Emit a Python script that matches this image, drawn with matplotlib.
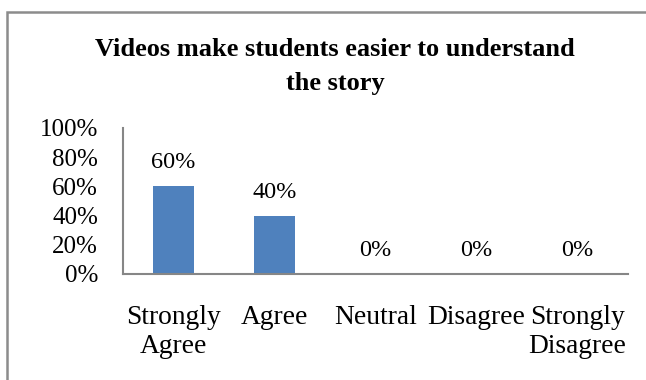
import matplotlib
matplotlib.use("Agg")
import matplotlib.pyplot as plt
from matplotlib.patches import Rectangle

categories = ["Strongly\nAgree", "Agree", "Neutral", "Disagree", "Strongly\nDisagree"]
values = [0.60, 0.40, 0.0, 0.0, 0.0]
value_labels = ["60%", "40%", "0%", "0%", "0%"]
yticks = [0.0, 0.2, 0.4, 0.6, 0.8, 1.0]
ytick_labels = ["0%", "20%", "40%", "60%", "80%", "100%"]
title = "Videos make students easier to understand\nthe story"

plt.rcParams['font.family'] = ['Liberation Serif', 'DejaVu Serif']

fig = plt.figure(figsize=(6.46, 3.80), dpi=100)
ax = fig.add_axes([123/646, 1-274/380, (628-123)/646, (274-128)/380])

x = list(range(len(categories)))
ax.bar(x, values, width=0.41, color="#4F81BD")
ax.set_xlim(-0.5, len(categories)-0.5)
ax.set_ylim(0, 1.0)
ax.set_yticks(yticks)
ax.set_yticklabels(ytick_labels, fontsize=18)
ax.set_xticks(x)
ax.set_xticklabels(categories, fontsize=19.8, linespacing=1.25)
ax.tick_params(axis='y', length=0, pad=18)
ax.tick_params(axis='x', length=0, pad=22)
for s in ['top', 'right']:
    ax.spines[s].set_visible(False)
for s in ['left', 'bottom']:
    ax.spines[s].set_color('#868686')
    ax.spines[s].set_linewidth(1.5)

for xi, v, lab in zip(x, values, value_labels):
    ax.annotate(lab, (xi, v), xytext=(0, 13), textcoords='offset points',
                ha='center', va='baseline', fontsize=17.5)

fig.text(335/646, 1-66.5/380, title, ha='center', va='center',
         fontsize=19, fontweight='bold', linespacing=1.59)

fig.patches.append(Rectangle((7/646, -0.2), 1.5, 1-12/380+0.2,
                             transform=fig.transFigure, fill=False,
                             edgecolor='#8c8c8c', linewidth=1.8))

fig.savefig("out.png", dpi=100)
